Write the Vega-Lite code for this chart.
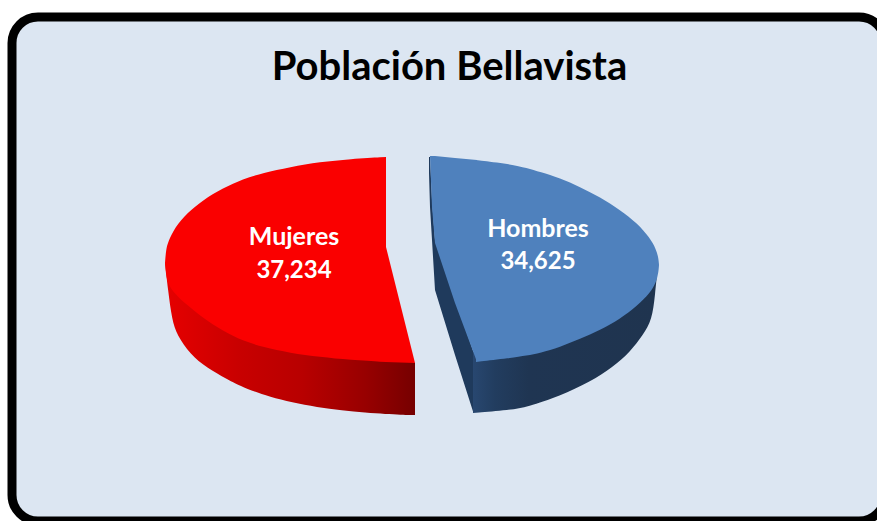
{
"$schema":"https://vega.github.io/schema/vega-lite/v6.json",
"width":873,"height":504,
"autosize":"none",
"padding":{"left":12,"top":17,"right":-8,"bottom":0},
"background":"white",
"view":{"fill":"#dce6f2","stroke":"#000000","strokeWidth":9,"cornerRadius":26},
"datasets":{
"shapes":[
{"part":"mside","x":165,"y":262,"y2":262},{"part":"mside","x":168,"y":270,"y2":290},{"part":"mside","x":172,"y":285,"y2":320},{"part":"mside","x":177,"y":291,"y2":335},{"part":"mside","x":190,"y":303,"y2":354},{"part":"mside","x":207,"y":317,"y2":368},{"part":"mside","x":227,"y":329,"y2":379},{"part":"mside","x":238,"y":335,"y2":385},{"part":"mside","x":267,"y":344,"y2":397},{"part":"mside","x":317,"y":353,"y2":408},{"part":"mside","x":367,"y":357,"y2":413},{"part":"mside","x":405,"y":358,"y2":415},{"part":"mside","x":415,"y":363,"y2":415},
{"part":"mtop","x":165,"y":263,"y2":263},{"part":"mtop","x":166,"y":250,"y2":275},{"part":"mtop","x":168,"y":242,"y2":284},{"part":"mtop","x":175,"y":227,"y2":294},{"part":"mtop","x":187,"y":213,"y2":305},{"part":"mtop","x":203,"y":200,"y2":318},{"part":"mtop","x":223,"y":188,"y2":331},{"part":"mtop","x":243,"y":179,"y2":341},{"part":"mtop","x":263,"y":173,"y2":347},{"part":"mtop","x":290,"y":167,"y2":353},{"part":"mtop","x":320,"y":162,"y2":357},{"part":"mtop","x":350,"y":159,"y2":360},{"part":"mtop","x":386,"y":157,"y2":362},
{"part":"mwedge","x":385.5,"y":245,"y2":362},{"part":"mwedge","x":415,"y":363,"y2":363},
{"part":"hsideleft","x":429,"y":157,"y2":173},{"part":"hsideleft","x":430,"y":157,"y2":207},{"part":"hsideleft","x":432,"y":200,"y2":240},{"part":"hsideleft","x":435,"y":240,"y2":290},{"part":"hsideleft","x":455,"y":298,"y2":355},{"part":"hsideleft","x":473.5,"y":352,"y2":413},
{"part":"hside","x":473,"y":352,"y2":413},{"part":"hside","x":510,"y":354,"y2":410},{"part":"hside","x":527,"y":351,"y2":407},{"part":"hside","x":560,"y":343,"y2":396},{"part":"hside","x":590,"y":331,"y2":382},{"part":"hside","x":613,"y":319,"y2":367},{"part":"hside","x":630,"y":309,"y2":352},{"part":"hside","x":643,"y":298,"y2":335},{"part":"hside","x":652,"y":285,"y2":320},{"part":"hside","x":655,"y":280,"y2":295},{"part":"hside","x":658,"y":265,"y2":265},
{"part":"htop","x":476,"y":160,"y2":362},{"part":"htop","x":510,"y":164,"y2":358},{"part":"htop","x":527,"y":168,"y2":355.5},{"part":"htop","x":540,"y":172,"y2":353},{"part":"htop","x":560,"y":178,"y2":347},{"part":"htop","x":580,"y":187,"y2":339},{"part":"htop","x":600,"y":197,"y2":330},{"part":"htop","x":620,"y":210,"y2":319},{"part":"htop","x":637,"y":223,"y2":306},{"part":"htop","x":650,"y":238,"y2":293},{"part":"htop","x":656,"y":249,"y2":283},{"part":"htop","x":658.5,"y":258,"y2":272},{"part":"htop","x":659,"y":265,"y2":265},
{"part":"hleft","x":430,"y":156,"y2":156},{"part":"hleft","x":432,"y":156,"y2":207},{"part":"hleft","x":435,"y":156,"y2":243},{"part":"hleft","x":455,"y":158,"y2":303},{"part":"hleft","x":477,"y":160,"y2":362}
],
"titulo":[{"texto":"Población Bellavista","x":449.5,"y":80}],
"slices":[
{"sexo":"Mujeres","poblacion":37234,"x":294,"yName":237,"yValue":271},
{"sexo":"Hombres","poblacion":34625,"x":538,"yName":229,"yValue":262}
]
},
"encoding":{
"x":{"field":"x","type":"quantitative","scale":{"domain":[12,885],"nice":false,"zero":false},"axis":null},
"y":{"field":"y","type":"quantitative","scale":{"domain":[521,17],"nice":false,"zero":false},"axis":null}
},
"layer":[
{"data":{"name":"shapes"},"transform":[{"filter":"datum.part==='mside'"}],
 "mark":{"type":"area","interpolate":"basis","color":{"gradient":"linear","x1":0,"x2":1,"y1":0,"y2":0,"stops":[{"offset":0,"color":"#e60000"},{"offset":0.3,"color":"#c80000"},{"offset":0.55,"color":"#b80000"},{"offset":0.8,"color":"#980000"},{"offset":1,"color":"#760000"}]}},
 "encoding":{"y2":{"field":"y2"}}},
{"data":{"name":"shapes"},"transform":[{"filter":"datum.part==='mtop'"}],
 "mark":{"type":"area","interpolate":"basis","color":"#fa0000"},
 "encoding":{"y2":{"field":"y2"}}},
{"data":{"name":"shapes"},"transform":[{"filter":"datum.part==='mwedge'"}],
 "mark":{"type":"area","color":"#fa0000"},
 "encoding":{"y2":{"field":"y2"}}},
{"data":{"name":"shapes"},"transform":[{"filter":"datum.part==='hsideleft'"}],
 "mark":{"type":"area","color":"#1f3a5c"},
 "encoding":{"y2":{"field":"y2"}}},
{"data":{"name":"shapes"},"transform":[{"filter":"datum.part==='hside'"}],
 "mark":{"type":"area","interpolate":"basis","color":{"gradient":"linear","x1":0,"x2":1,"y1":0,"y2":0,"stops":[{"offset":0,"color":"#284770"},{"offset":0.12,"color":"#223d5f"},{"offset":0.3,"color":"#1f3552"},{"offset":1,"color":"#1f344f"}]}},
 "encoding":{"y2":{"field":"y2"}}},
{"data":{"name":"shapes"},"transform":[{"filter":"datum.part==='htop'"}],
 "mark":{"type":"area","interpolate":"basis","color":"#4f81bd"},
 "encoding":{"y2":{"field":"y2"}}},
{"data":{"name":"shapes"},"transform":[{"filter":"datum.part==='hleft'"}],
 "mark":{"type":"area","color":"#4f81bd"},
 "encoding":{"y2":{"field":"y2"}}},
{"data":{"name":"titulo"},
 "mark":{"type":"text","font":"Lato","fontSize":40,"fontWeight":"bold","color":"#000000","baseline":"alphabetic","align":"center"},
 "encoding":{"text":{"field":"texto"}}},
{"data":{"name":"slices"},
 "mark":{"type":"text","font":"Lato","fontSize":25,"fontWeight":"bold","color":"white","baseline":"middle","align":"center"},
 "encoding":{"y":{"field":"yName","type":"quantitative"},"text":{"field":"sexo"}}},
{"data":{"name":"slices"},
 "mark":{"type":"text","font":"Lato","fontSize":24,"fontWeight":"bold","color":"white","baseline":"middle","align":"center"},
 "encoding":{"y":{"field":"yValue","type":"quantitative"},"text":{"field":"poblacion","type":"quantitative","format":","}}}
]
}
